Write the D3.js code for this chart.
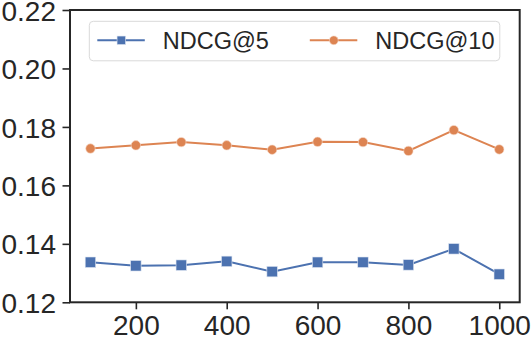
<!DOCTYPE html>
<html>
<head>
<meta charset="utf-8">
<script src="https://cdn.jsdelivr.net/npm/d3@7"></script>
<style>
  body { margin: 0; background: #fff; }
  svg { display: block; font-family: Arial, "Liberation Sans", sans-serif; }
</style>
</head>
<body>
<svg id="chart" width="532" height="342"></svg>
<script>
// data
const xValues = [100, 200, 300, 400, 500, 600, 700, 800, 900, 1000]
const ndcg5 = [0.1337, 0.1325, 0.1327, 0.1340, 0.1305, 0.1337, 0.1337, 0.1328, 0.1383, 0.1296]
const ndcg10 = [0.1726, 0.1737, 0.1748, 0.1737, 0.1722, 0.1749, 0.1748, 0.1718, 0.1789, 0.1723]
const seriesNames = ['NDCG@5', 'NDCG@10']
const xTicks = [200, 400, 600, 800, 1000]
const yTicks = [0.12, 0.14, 0.16, 0.18, 0.20, 0.22]

const width = 532
const height = 342
const margin = { top: 10, right: 12.3, bottom: 39.7, left: 70 }
const ink = '#262626'

const svg = d3.select('#chart')

const x = d3.scaleLinear()
  .domain([55, 1045]) // matplotlib's 5% margins
  .range([margin.left, width - margin.right])

const y = d3.scaleLinear()
  .domain([0.12, 0.22])
  .range([height - margin.bottom, margin.top])

// axes
const xAxis = svg.append('g')
  .attr('transform', `translate(0, ${height - margin.bottom})`)
  .call(d3.axisBottom(x).tickValues(xTicks).tickSize(7).tickPadding(6).tickFormat(d3.format('d')))

const yAxis = svg.append('g')
  .attr('transform', `translate(${margin.left}, 0)`)
  .call(d3.axisLeft(y).tickValues(yTicks).tickSize(7.5).tickPadding(6.5).tickFormat(d3.format('.2f')))

for (const ax of [xAxis, yAxis]) {
  ax.select('.domain').remove()
  ax.selectAll('line').attr('stroke', ink).attr('stroke-width', 1.6)
  ax.selectAll('text')
    .attr('fill', ink)
    .style('font-size', '28px')
    .style('font-family', 'Arial, "Liberation Sans", sans-serif')
}
xAxis.selectAll('text').attr('dy', '0.71em')
yAxis.selectAll('text').attr('dy', '0.36em')

// frame
svg.append('rect')
  .attr('x', margin.left)
  .attr('y', margin.top)
  .attr('width', width - margin.left - margin.right)
  .attr('height', height - margin.top - margin.bottom)
  .attr('fill', 'none')
  .attr('stroke', ink)
  .attr('stroke-width', 2)

const series = [
  { name: seriesNames[0], values: ndcg5, color: '#4c72b0', marker: 'square' },
  { name: seriesNames[1], values: ndcg10, color: '#dd8452', marker: 'circle' }
]

const line = d3.line()
  .x(d => x(d[0]))
  .y(d => y(d[1]))

const drawMarker = (g, marker, color, size) => {
  if (marker === 'square') {
    g.append('rect')
      .attr('x', -size / 2).attr('y', -size / 2)
      .attr('width', size).attr('height', size)
      .attr('fill', color)
      .attr('stroke', '#dfe6f2')
      .attr('stroke-width', 0.6)
  } else {
    g.append('circle')
      .attr('r', size * 0.45)
      .attr('fill', color)
      .attr('stroke', '#f6dccd')
      .attr('stroke-width', 0.6)
  }
}

series.forEach(s => {
  const pts = xValues.map((v, i) => [v, s.values[i]])
  svg.append('path')
    .datum(pts)
    .attr('d', line)
    .attr('fill', 'none')
    .attr('stroke', s.color)
    .attr('stroke-width', 2)

  svg.append('g')
    .selectAll('g')
    .data(pts)
    .join('g')
    .attr('transform', d => `translate(${x(d[0])}, ${y(d[1])})`)
    .each(function () { drawMarker(d3.select(this), s.marker, s.color, 10.5) })
})

// legend
const legend = svg.append('g').attr('transform', 'translate(89.3, 21.3)')
legend.append('rect')
  .attr('width', 410.5)
  .attr('height', 39.5)
  .attr('rx', 4)
  .attr('fill', '#fff')
  .attr('fill-opacity', 0.8)
  .attr('stroke', '#d9d9d9')
  .attr('stroke-width', 1)

const entries = [{ x: 8 }, { x: 220.5 }]
series.forEach((s, i) => {
  const g = legend.append('g').attr('transform', `translate(${entries[i].x}, 19)`)
  g.append('line')
    .attr('x1', 0).attr('x2', 47.5)
    .attr('stroke', s.color)
    .attr('stroke-width', 2)
  const m = g.append('g').attr('transform', 'translate(24, 0)')
  drawMarker(m, s.marker, s.color, s.marker === 'square' ? 8.5 : 9.8)
  g.append('text')
    .attr('x', 65.5)
    .attr('dy', '0.36em')
    .attr('fill', ink)
    .style('font-size', '23.5px')
    .text(s.name)
})
</script>
</body>
</html>
